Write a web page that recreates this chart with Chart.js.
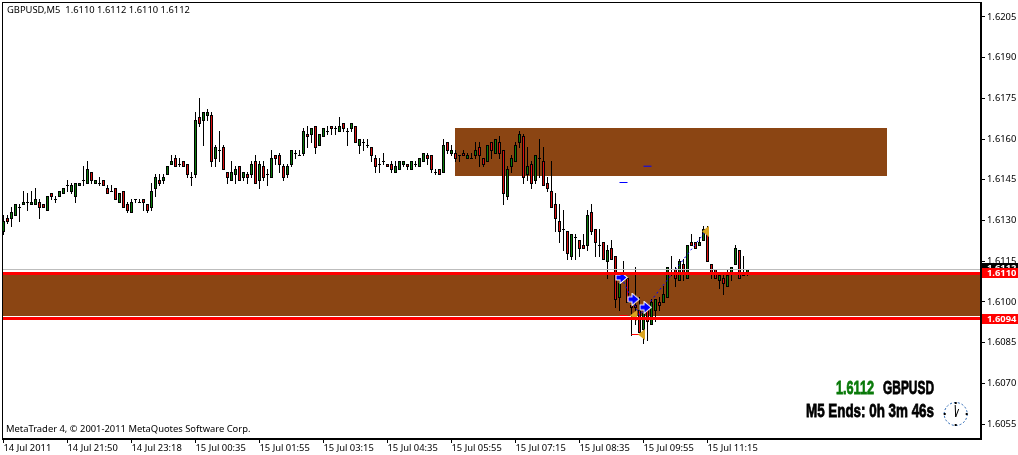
<!DOCTYPE html>
<html><head><meta charset="utf-8">
<script src="https://cdn.jsdelivr.net/npm/chart.js@4"></script>
<style>html,body{margin:0;padding:0;background:#fff;overflow:hidden}canvas{display:block}</style>
</head><body><canvas id="c" width="1018" height="455"></canvas>
<script>
const opens=[
1.6126,1.6131,1.6131,1.6132,1.6135,1.6136,1.6137,1.6136,1.6136,1.6137,
1.6136,1.6134,1.6140,1.6138,1.6139,1.6140,1.6143,1.6141,1.6139,1.6143,
1.6145,1.6144,1.6148,1.6144,1.6144,1.6145,1.6142,1.6141,1.6142,1.6137,
1.6141,1.6136,1.6133,1.6138,1.6137,1.6138,1.6136,1.6135,1.6142,1.6145,
1.6145,1.6147,1.6151,1.6153,1.6151,1.6152,1.6151,1.6146,1.6147,1.6168,
1.6167,1.6169,1.6169,1.6153,1.6156,1.6157,1.6148,1.6145,1.6147,1.6150,
1.6146,1.6147,1.6147,1.6152,1.6145,1.6150,1.6147,1.6146,1.6154,1.6154,
1.6150,1.6147,1.6151,1.6155,1.6154,1.6155,1.6162,1.6162,1.6165,1.6158,
1.6161,1.6163,1.6165,1.6164,1.6163,1.6166,1.6163,1.6164,1.6165,1.6158,
1.6159,1.6158,1.6157,1.6153,1.6151,1.6152,1.6151,1.6151,1.6148,1.6149,
1.6151,1.6151,1.6149,1.6151,1.6150,1.6152,1.6154,1.6154,1.6148,1.6149,
1.6148,1.6159,1.6155,1.6155,1.6154,1.6155,1.6153,1.6153,1.6154,1.6157,
1.6153,1.6152,1.6159,1.6155,1.6159,1.6156,1.6139,1.6150,1.6152,1.6159,
1.6161,1.6147,1.6151,1.6145,1.6153,1.6152,1.6144,1.6141,1.6136,1.6130,
1.6127,1.6126,1.6117,1.6124,1.6123,1.6121,1.6121,1.6133,1.6127,1.6121,
1.6122,1.6115,1.6120,1.6117,1.6102,1.6110,1.6109,1.6099,1.6099,1.6097,
1.6090,1.6097,1.6092,1.6097,1.6100,1.6100,1.6102,1.6112,1.6112,1.6108,
1.6114,1.6109,1.6122,1.6122,1.6121,1.6123,1.6127,1.6114,1.6112,1.6108,
1.6109,1.6106,1.6111,1.6114,1.6119,1.6110,1.6111];
const highs=[
1.6132,1.6132,1.6135,1.6136,1.6136,1.6141,1.6140,1.6141,1.6142,1.6138,
1.6136,1.6139,1.6140,1.6139,1.6141,1.6142,1.6145,1.6144,1.6144,1.6144,
1.6150,1.6152,1.6148,1.6145,1.6146,1.6145,1.6143,1.6143,1.6142,1.6140,
1.6141,1.6137,1.6138,1.6138,1.6138,1.6138,1.6136,1.6144,1.6147,1.6147,
1.6147,1.6150,1.6154,1.6154,1.6153,1.6152,1.6151,1.6148,1.6170,1.6175,
1.6170,1.6171,1.6170,1.6158,1.6163,1.6158,1.6148,1.6152,1.6150,1.6150,
1.6148,1.6148,1.6152,1.6154,1.6152,1.6152,1.6149,1.6156,1.6154,1.6155,
1.6151,1.6151,1.6156,1.6156,1.6156,1.6164,1.6165,1.6164,1.6165,1.6162,
1.6164,1.6165,1.6165,1.6165,1.6168,1.6166,1.6164,1.6166,1.6165,1.6160,
1.6160,1.6160,1.6157,1.6154,1.6153,1.6155,1.6151,1.6152,1.6152,1.6152,
1.6152,1.6151,1.6152,1.6152,1.6153,1.6155,1.6155,1.6154,1.6149,1.6149,
1.6160,1.6159,1.6158,1.6156,1.6154,1.6156,1.6155,1.6155,1.6159,1.6159,
1.6153,1.6158,1.6159,1.6160,1.6161,1.6156,1.6150,1.6154,1.6159,1.6163,
1.6162,1.6157,1.6152,1.6154,1.6160,1.6157,1.6146,1.6152,1.6140,1.6136,
1.6134,1.6126,1.6125,1.6125,1.6123,1.6125,1.6134,1.6136,1.6127,1.6127,
1.6122,1.6121,1.6123,1.6117,1.6111,1.6115,1.6109,1.6099,1.6113,1.6102,
1.6098,1.6097,1.6101,1.6101,1.6102,1.6106,1.6113,1.6117,1.6113,1.6116,
1.6116,1.6121,1.6125,1.6122,1.6124,1.6128,1.6128,1.6114,1.6112,1.6111,
1.6111,1.6112,1.6113,1.6121,1.6119,1.6117,1.6112];
const lows=[
1.6125,1.6129,1.6128,1.6132,1.6130,1.6136,1.6134,1.6136,1.6136,1.6131,
1.6135,1.6134,1.6138,1.6137,1.6139,1.6140,1.6141,1.6140,1.6137,1.6143,
1.6143,1.6144,1.6144,1.6144,1.6143,1.6143,1.6140,1.6141,1.6138,1.6137,
1.6135,1.6133,1.6133,1.6137,1.6137,1.6134,1.6133,1.6134,1.6139,1.6143,
1.6144,1.6147,1.6151,1.6150,1.6150,1.6150,1.6146,1.6143,1.6146,1.6165,
1.6158,1.6167,1.6150,1.6150,1.6152,1.6149,1.6144,1.6145,1.6144,1.6145,
1.6145,1.6144,1.6146,1.6144,1.6142,1.6145,1.6143,1.6146,1.6151,1.6148,
1.6145,1.6146,1.6150,1.6153,1.6154,1.6154,1.6157,1.6159,1.6155,1.6158,
1.6161,1.6162,1.6162,1.6162,1.6163,1.6163,1.6158,1.6163,1.6159,1.6155,
1.6156,1.6157,1.6152,1.6148,1.6148,1.6151,1.6150,1.6148,1.6148,1.6149,
1.6150,1.6149,1.6149,1.6150,1.6150,1.6152,1.6151,1.6148,1.6147,1.6147,
1.6148,1.6155,1.6154,1.6152,1.6152,1.6154,1.6153,1.6153,1.6153,1.6150,
1.6150,1.6152,1.6153,1.6155,1.6153,1.6136,1.6138,1.6148,1.6152,1.6157,
1.6144,1.6145,1.6142,1.6144,1.6146,1.6143,1.6141,1.6135,1.6126,1.6122,
1.6119,1.6116,1.6116,1.6116,1.6117,1.6120,1.6119,1.6125,1.6117,1.6117,
1.6116,1.6109,1.6116,1.6098,1.6097,1.6108,1.6100,1.6088,1.6092,1.6089,
1.6085,1.6086,1.6092,1.6093,1.6097,1.6100,1.6102,1.6110,1.6106,1.6108,
1.6108,1.6109,1.6121,1.6120,1.6121,1.6123,1.6115,1.6109,1.6109,1.6105,
1.6103,1.6106,1.6108,1.6114,1.6109,1.6110,1.6110];
const closes=[
1.6130,1.6130,1.6133,1.6136,1.6135,1.6137,1.6137,1.6137,1.6138,1.6135,
1.6135,1.6139,1.6139,1.6138,1.6141,1.6142,1.6143,1.6143,1.6144,1.6144,
1.6145,1.6149,1.6145,1.6145,1.6144,1.6143,1.6140,1.6141,1.6138,1.6140,
1.6135,1.6134,1.6137,1.6138,1.6137,1.6137,1.6134,1.6141,1.6146,1.6144,
1.6146,1.6150,1.6152,1.6150,1.6151,1.6150,1.6147,1.6146,1.6167,1.6166,
1.6170,1.6170,1.6152,1.6157,1.6156,1.6149,1.6146,1.6148,1.6149,1.6145,
1.6148,1.6146,1.6151,1.6144,1.6151,1.6146,1.6147,1.6153,1.6153,1.6151,
1.6146,1.6150,1.6156,1.6155,1.6154,1.6163,1.6161,1.6164,1.6157,1.6162,
1.6164,1.6163,1.6164,1.6164,1.6165,1.6164,1.6163,1.6166,1.6159,1.6160,
1.6159,1.6158,1.6154,1.6150,1.6151,1.6152,1.6150,1.6149,1.6150,1.6152,
1.6152,1.6150,1.6152,1.6151,1.6153,1.6155,1.6153,1.6149,1.6148,1.6147,
1.6158,1.6156,1.6156,1.6153,1.6154,1.6154,1.6154,1.6153,1.6156,1.6154,
1.6151,1.6158,1.6156,1.6160,1.6155,1.6140,1.6149,1.6153,1.6158,1.6162,
1.6146,1.6150,1.6144,1.6154,1.6153,1.6143,1.6142,1.6135,1.6131,1.6126,
1.6127,1.6118,1.6125,1.6124,1.6120,1.6120,1.6132,1.6126,1.6122,1.6121,
1.6116,1.6119,1.6116,1.6101,1.6107,1.6110,1.6100,1.6098,1.6098,1.6089,
1.6096,1.6093,1.6100,1.6101,1.6099,1.6103,1.6113,1.6112,1.6109,1.6115,
1.6111,1.6121,1.6121,1.6120,1.6122,1.6127,1.6115,1.6111,1.6109,1.6110,
1.6107,1.6110,1.6113,1.6120,1.6109,1.6110,1.6112];

const priceTicks=[1.6205,1.6190,1.6175,1.6160,1.6145,1.6130,1.6115,1.6100,1.6085,1.6070,1.6055];
const timeTicks=[0,16,32,48,64,80,96,112,128,144,160,176];
const timeLabels=['14 Jul 2011','14 Jul 21:50','14 Jul 23:18','15 Jul 00:35','15 Jul 01:55','15 Jul 03:15','15 Jul 04:35','15 Jul 05:55','15 Jul 07:15','15 Jul 08:35','15 Jul 09:55','15 Jul 11:15'];

const zigzagTimes=[154.5,159,175.5];
const zigzagPrices=[1.6109,1.6095,1.6126];
const buyArrowTimes=[154.5,157.5,160.5];
const buyArrowPrices=[1.6109,1.6101,1.6098];
const goldTimes=[157.5,159.5,175.5];
const goldPrices=[1.6095,1.6088,1.6126];
const blueDashTimes=[[154,156],[160,162]];
const blueDashPrices=[1.6144,1.6150];
const redDashTimes=[[154,156],[157,159]];
const redDashPrices=[1.6095,1.6088];

const upperZone={from:113,to:221,top:1.6164,bottom:1.61465};
const lowerZoneTop=1.6110, lowerZoneBottom=1.6095;
const askLine=1.6112, redLines=[1.61105,1.6094];
const GREEN='#0a7a0a', RED='#dc0f0f';
const FONT='"Noto Sans"';
const SMALL='9.4px '+FONT;

const idx=opens.map((_,i)=>i);
function sprite(w,h,draw){const c=document.createElement('canvas');c.width=w;c.height=h;draw(c.getContext('2d'));return c;}
const blueArrow=sprite(13,13,g=>{
  g.beginPath();g.moveTo(1.5,4.5);g.lineTo(5.5,4.5);g.lineTo(5.5,1.5);g.lineTo(11.5,6.5);g.lineTo(5.5,11.5);g.lineTo(5.5,8.5);g.lineTo(1.5,8.5);g.closePath();
  g.fillStyle='#0000ff';g.fill();g.strokeStyle='#fff';g.lineWidth=2;g.stroke();g.fill();
});
const goldArrow=sprite(7,11,g=>{
  g.beginPath();g.moveTo(0,5.5);g.lineTo(7,0);g.lineTo(7,11);g.closePath();g.fillStyle='#daa520';g.fill();
});

const snapBars={id:'snapBars',afterDatasetsUpdate(chart){
  chart.data.datasets.forEach((d,k)=>{ if(d.type!=='bar')return;
    chart.getDatasetMeta(k).data.forEach(el=>{
      const a=Math.round(Math.min(el.y,el.base)),b=Math.round(Math.max(el.y,el.base))+1;
      el.y=a;el.base=b;
    });
  });
}};
const back={id:'back',beforeDatasetsDraw(chart){
  const {ctx,chartArea:A,scales:{x,y}}=chart;
  ctx.save();ctx.fillStyle='#8b4513';
  ctx.fillRect(x.getPixelForValue(upperZone.from)-0.5,Math.round(y.getPixelForValue(upperZone.top)),
    x.getPixelForValue(upperZone.to)-x.getPixelForValue(upperZone.from),
    Math.round(y.getPixelForValue(upperZone.bottom))-Math.round(y.getPixelForValue(upperZone.top)));
  ctx.fillRect(A.left,Math.round(y.getPixelForValue(lowerZoneTop)),A.right-A.left,
    Math.round(y.getPixelForValue(lowerZoneBottom))-Math.round(y.getPixelForValue(lowerZoneTop)));
  ctx.restore();
}};
const front={id:'front',afterDatasetsDraw(chart){
  const {ctx,chartArea:A,scales:{y}}=chart;
  ctx.save();
  ctx.fillStyle='#bdbdbd';ctx.fillRect(A.left,Math.round(y.getPixelForValue(askLine)),A.right-A.left,1);
  ctx.fillStyle='#ff0000';
  redLines.forEach(v=>ctx.fillRect(A.left,Math.round(y.getPixelForValue(v))-1,A.right-A.left,3));
  ctx.restore();
},afterDraw(chart){
  const {ctx,chartArea:A,scales:{y}}=chart;
  ctx.save();
  ctx.strokeStyle='#000';ctx.lineWidth=1;ctx.strokeRect(2.5,2.5,978,436);
  ctx.fillStyle='#000';ctx.textAlign='left';ctx.textBaseline='middle';
  ctx.font=SMALL;
  ctx.fillText('GBPUSD,M5  1.6110 1.6112 1.6110 1.6112',7,10.5);
  ctx.fillText('MetaTrader 4, © 2001-2011 MetaQuotes Software Corp.',6,429.5);
  const tag=(v,bg,cy)=>{
    ctx.fillStyle=bg;ctx.fillRect(982,cy-5,36,10);
    ctx.fillStyle='#fff';ctx.font='bold '+SMALL;ctx.fillText(v,987,cy+0.5);
  };
  ctx.save();ctx.beginPath();ctx.rect(982,263,36,8);ctx.clip();tag('1.6112','#000',268);ctx.restore();
  tag('1.6110','#ff0000',273);
  tag('1.6094','#ff0000',319);
  ctx.font='bold 19px "Liberation Sans"';
  ctx.lineWidth=0.8;
  const big=(t,x,yy,col,w)=>{ctx.fillStyle=col;ctx.strokeStyle=col;ctx.fillText(t,x,yy,w);ctx.strokeText(t,x,yy,w);};
  big('1.6112',836,388.5,'#0a7a0a',38);
  big('GBPUSD',883,388.5,'#000',51);
  big('M5 Ends: 0h 3m 46s',806,412,'#000',128);
  const cx=955.7,cy=414;
  ctx.beginPath();ctx.arc(cx,cy,11.5,0,Math.PI*2);ctx.fillStyle='#fff';ctx.fill();
  ctx.setLineDash([2,2]);ctx.strokeStyle='#2060b0';ctx.lineWidth=1;ctx.stroke();ctx.setLineDash([]);
  ctx.fillStyle='#000';
  for(let a=0;a<12;a+=3){ctx.fillRect(cx+Math.sin(a*Math.PI/6)*11-1,cy-Math.cos(a*Math.PI/6)*11-1,2,2);}
  ctx.strokeStyle='#000';ctx.lineWidth=1;
  ctx.beginPath();ctx.moveTo(cx,cy+3);ctx.lineTo(cx-0.5,cy-9);ctx.moveTo(cx,cy+3);ctx.lineTo(cx+3,cy-5);ctx.stroke();
  ctx.restore();
}};

function pts(xs,ys){return xs.map((v,i)=>({x:v,y:ys[i]}));}
const segs=[];
blueDashTimes.forEach((t,i)=>segs.push({type:'line',order:1,data:pts(t,[blueDashPrices[i],blueDashPrices[i]]),borderColor:'#0000ff',borderWidth:1,pointRadius:0}));
redDashTimes.forEach((t,i)=>segs.push({type:'line',order:1,data:pts(t,[redDashPrices[i],redDashPrices[i]]),borderColor:'#ff0000',borderWidth:1,pointRadius:0}));
const noPad=a=>{a.paddingLeft=a.paddingRight=a.paddingTop=a.paddingBottom=0;};

new Chart(document.getElementById('c'),{
  type:'bar',
  data:{datasets:[
    {type:'bar',order:5,grouped:false,barThickness:1,borderWidth:0,inflateAmount:0,backgroundColor:'#000',
     data:idx.map(i=>({x:i,y:[lows[i],highs[i]]}))},
    {type:'bar',order:4,grouped:false,barThickness:3,borderWidth:1,borderSkipped:false,inflateAmount:0,borderColor:'#000',
     backgroundColor:idx.map(i=>closes[i]>=opens[i]?GREEN:RED),
     data:idx.map(i=>({x:i,y:[opens[i],closes[i]]}))},
    {type:'line',order:3,data:pts(zigzagTimes,zigzagPrices),borderColor:'#0000ff',borderWidth:1,borderDash:[2,3],pointRadius:0,tension:0},
    ...segs,
    {type:'scatter',order:0,data:pts(buyArrowTimes,buyArrowPrices),pointStyle:blueArrow,pointRadius:5},
    {type:'scatter',order:0,data:pts(goldTimes,goldPrices),pointStyle:goldArrow,pointRadius:5}
  ]},
  options:{
    responsive:false,animation:false,
    layout:{autoPadding:false,padding:{left:2,top:2,right:0,bottom:0}},
    plugins:{legend:{display:false},tooltip:{enabled:false},title:{display:false}},
    scales:{
      x:{type:'linear',position:'bottom',offset:false,min:-0.375,max:244.375,
        afterBuildTicks(a){a.ticks=timeTicks.map(v=>({value:v}));},
        afterFit(a){a.height=16;noPad(a);},
        border:{display:true,color:'#000'},
        grid:{display:true,drawOnChartArea:false,drawTicks:true,tickLength:4,color:'#000',offset:false},
        ticks:{autoSkip:false,maxRotation:0,minRotation:0,align:'start',padding:0,color:'#000',font:{family:'Noto Sans',size:9.4},
          callback(v,i){return timeLabels[i];}}},
      y:{type:'linear',position:'right',min:1.60495,max:1.62105,
        afterBuildTicks(a){a.ticks=priceTicks.map(v=>({value:v}));},
        afterFit(a){a.width=37;noPad(a);},
        border:{display:true,color:'#000'},
        grid:{display:true,drawOnChartArea:false,drawTicks:true,tickLength:4,color:'#000'},
        ticks:{autoSkip:false,padding:2,color:'#000',font:{family:'Noto Sans',size:9.4},
          callback(v){return v.toFixed(4);}}}
    }
  },
  plugins:[snapBars,back,front]
});
</script></body></html>
